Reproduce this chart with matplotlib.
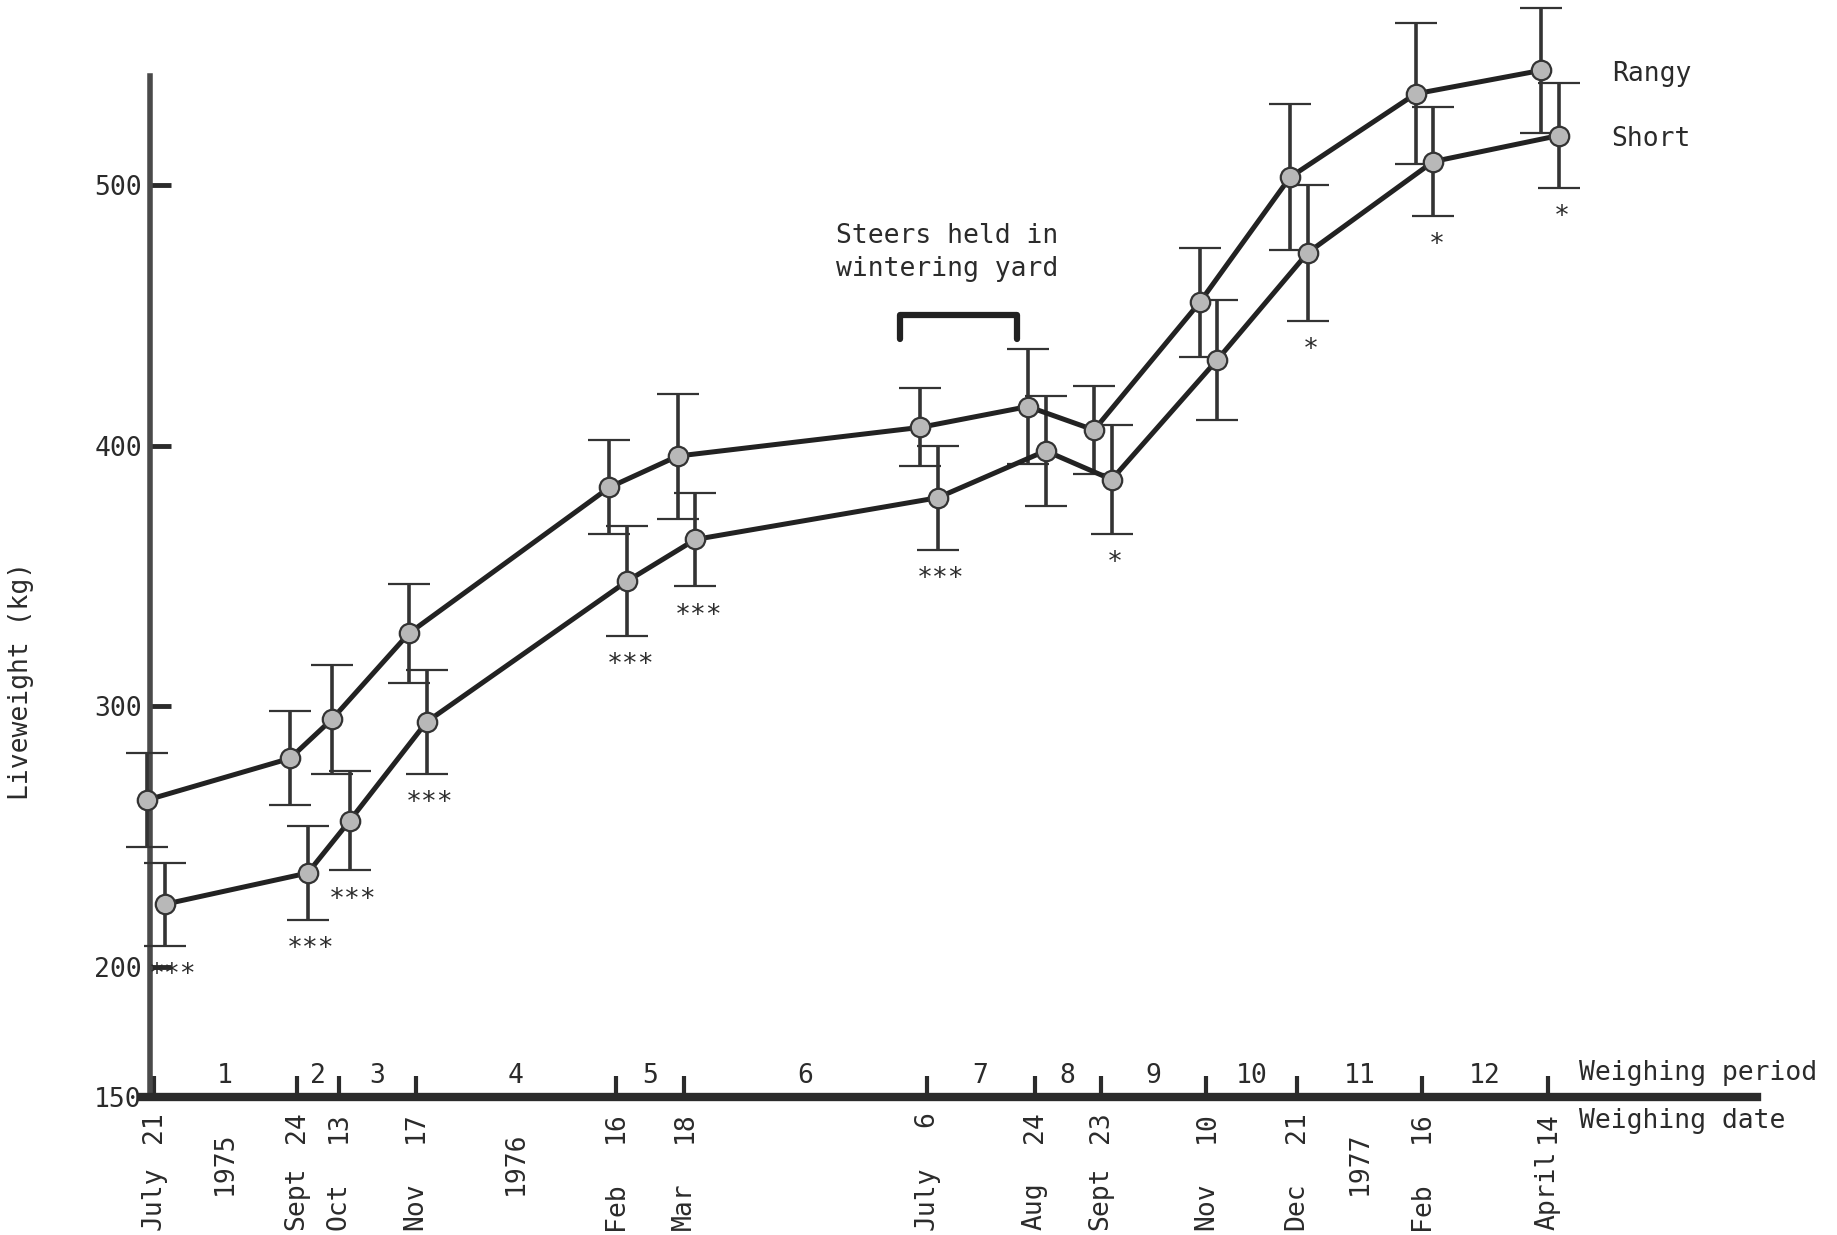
import numpy as np
import matplotlib.pyplot as plt

plt.rcParams['font.family'] = ['DejaVu Sans Mono', 'DejaVu Sans']

# ===== DATA =====
weigh_dates = ['1975-07-21', '1975-09-24', '1975-10-13', '1975-11-17',
               '1976-02-16', '1976-03-18', '1976-07-06', '1976-08-24',
               '1976-09-23', '1976-11-10', '1976-12-21', '1977-02-16',
               '1977-04-14']
day_labels = ['21', '24', '13', '17', '16', '18', '6', '24', '23', '10', '21', '16', '14']
month_labels = ['July', 'Sept', 'Oct', 'Nov', 'Feb', 'Mar', 'July', 'Aug',
                'Sept', 'Nov', 'Dec', 'Feb', 'April']
period_labels = ['1', '2', '3', '4', '5', '6', '7', '8', '9', '10', '11', '12']
year_labels = {'1975': 1, '1976': 4, '1977': 11}   # year -> weighing period it sits under

rangy_mean = [264, 280, 295, 328, 384, 396, 407, 415, 406, 455, 503, 535, 544]
rangy_se = [18, 18, 21, 19, 18, 24, 15, 22, 17, 21, 28, 27, 24]
short_mean = [224, 236, 256, 294, 348, 364, 380, 398, 387, 433, 474, 509, 519]
short_se = [16, 18, 19, 20, 21, 18, 20, 21, 21, 23, 26, 21, 20]
signif = ['***', '***', '***', '***', '***', '***', '***', '', '*', '', '*', '*', '*']

wintering = ('1976-06-24', '1976-08-16')

# days since first weighing
t0 = np.datetime64(weigh_dates[0], 'D')
days = (np.array(weigh_dates, dtype='datetime64[D]') - t0).astype(int)
w_start, w_end = (np.array(wintering, dtype='datetime64[D]') - t0).astype(int)

ink = '#2b2b2b'
fs = 19
dodge_rangy, dodge_short = -3, 5

fig = plt.figure(figsize=(18.37, 12.35), dpi=100)
ax = fig.add_axes([0, 0, 1, 1])
ax.set_xlim(-69.7, 764.3)
ax.set_ylim(97.1, 571)

# axes lines
ax.spines['top'].set_visible(False)
ax.spines['right'].set_visible(False)
ax.spines['left'].set_position(('data', -1.5))
ax.spines['left'].set_bounds(150, 542)
ax.spines['left'].set_linewidth(4)
ax.spines['left'].set_color('#4a4a4a')
ax.spines['bottom'].set_position(('data', 150))
ax.spines['bottom'].set_bounds(-5.5, 728)
ax.spines['bottom'].set_linewidth(6)
ax.spines['bottom'].set_color(ink)

ax.set_yticks([150, 200, 300, 400, 500])
ax.tick_params(axis='y', direction='in', length=15, width=3.5, color=ink,
               labelsize=fs, labelcolor=ink, pad=6)
ax.set_xticks(days)
ax.tick_params(axis='x', direction='in', length=15, width=3, color=ink,
               labelbottom=False)

ax.text(0.0114, 0.449, 'Liveweight (kg)', transform=ax.transAxes, rotation=90,
        ha='center', va='center', fontsize=fs, color=ink)

# ===== SERIES =====
for mean, se, dodge in [(rangy_mean, rangy_se, dodge_rangy), (short_mean, short_se, dodge_short)]:
    ax.errorbar(days + dodge, mean, yerr=se, fmt='-o', color='#222222', lw=3.6,
                ms=14, mfc='#b8b8b8', mec='#333333', mew=1.6, ecolor='#333333',
                elinewidth=2.6, capsize=15, capthick=2.8, zorder=3)

# significance marks under the Short bars (kept clear of the y axis)
for i, s in enumerate(signif):
    if s:
        xs = max(days[i] + dodge_short + 1.5, 8.5)
        ax.annotate(s, xy=(xs, short_mean[i] - short_se[i]),
                    xytext=(0, -21), textcoords='offset points',
                    ha='center', va='center', fontsize=fs, color=ink)

ax.text(days[-1] + 29, rangy_mean[-1] - 1.5, 'Rangy', ha='left', va='center',
        fontsize=fs, color=ink)
ax.text(days[-1] + 29, short_mean[-1] - 1.5, 'Short', ha='left', va='center',
        fontsize=fs, color=ink)

# wintering yard bracket
ax.plot([w_start, w_start, w_end, w_end], [441, 450, 450, 441], color='#222222',
        lw=4.5, solid_capstyle='round', solid_joinstyle='round')
ax.text((w_start + w_end) / 2 - 5, 474, 'Steers held in\nwintering yard',
        ha='center', va='center', fontsize=fs, color=ink, linespacing=1.35)

# ===== X LABELS =====
mids = (days[:-1] + days[1:]) / 2
for m, lbl in zip(mids, period_labels):
    ax.annotate(lbl, xy=(m, 150), xytext=(0, 10), textcoords='offset points',
                ha='center', va='baseline', fontsize=fs, color=ink)
ax.annotate('Weighing period', xy=(days[-1] + 14, 150), xytext=(0, 12),
            textcoords='offset points', ha='left', va='baseline', fontsize=fs, color=ink)
ax.annotate('Weighing date', xy=(days[-1] + 14, 150), xytext=(0, -17),
            textcoords='offset points', ha='left', va='center', fontsize=fs, color=ink)

xt = ax.get_xaxis_transform()
for d, dl, ml in zip(days, day_labels, month_labels):
    ax.annotate(dl, xy=(d, 150), xytext=(0, -10), textcoords='offset points',
                rotation=90, ha='center', va='top', fontsize=fs, color=ink)
    ax.text(d, 0.004, ml, transform=xt, rotation=90, ha='center', va='bottom',
            fontsize=fs, color=ink)
for yr, p in year_labels.items():
    ax.text(mids[p - 1], 0.058, yr, transform=xt, rotation=90, ha='center',
            va='center', fontsize=fs, color=ink)

fig.savefig('out.png', dpi=100)
